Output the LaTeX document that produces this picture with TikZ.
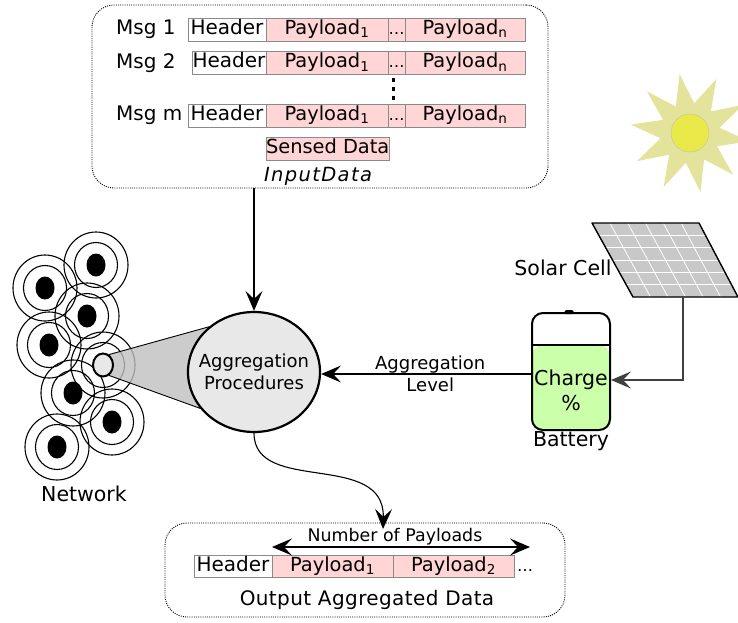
\documentclass[tikz,border=0pt]{standalone}
\usepackage{fontspec}
\setmainfont{DejaVu Sans}[ItalicFont=DejaVu Sans Oblique]
\usetikzlibrary{arrows.meta,positioning,calc,shapes.geometric,backgrounds}
\definecolor{paypink}{HTML}{FFD5D5}
\definecolor{boxgray}{HTML}{8A8A8A}
\definecolor{chargegreen}{HTML}{CCFFAA}
\definecolor{sunray}{HTML}{E3E39C}
\definecolor{sundisk}{HTML}{E9E94A}
\definecolor{panelgray}{HTML}{C8C8C8}
\definecolor{procgray}{HTML}{E8E8E8}
\tikzset{
  cell/.style={inner sep=0pt,outer sep=0pt,text height=14.5pt,text depth=4.5pt,
    font=\fontsize{20}{23}\selectfont},
  fld/.style={cell,draw=boxgray,line width=0.9pt,minimum height=23},
  hdr/.style={fld,fill=white,anchor=west},
  pay/.style={fld,fill=paypink,font=\fontsize{19.4}{23}\selectfont},
  grp/.style={draw,line width=0.9pt,dash pattern=on 1pt off 1.2pt,
    rounded corners=22pt,inner sep=0pt},
  tip/.tip={Stealth[length=20pt,width=17pt,inset=8pt]},
  arr/.style={-tip,line width=1.1pt},
  ring/.style={line width=1.1pt},
  sdot/.style={ellipse,fill=black,minimum width=19,minimum height=23,inner sep=0pt},
  lbl/.style={font=\fontsize{20.5}{25}\selectfont},
  sml/.style={font=\fontsize{18}{22}\selectfont},
}

\begin{document}
\begin{tikzpicture}[x=1pt,y=-1pt]
  \useasboundingbox (0,0) rectangle (738,623);
  \clip (0,0) rectangle (738,623);

  % incoming messages
  \node[grp,minimum width=456,minimum height=183] (inbox) at (320,96.5) {};
  \foreach \r/\y/\hx in {1/29.5/188,2/63/192,m/115.5/188} {
    \node[anchor=west,inner sep=0pt,font=\fontsize{20}{23}\selectfont] (msg\r) at (116,\y) {Msg \r};
    \node[hdr,minimum width=266-\hx] (hd\r) at (\hx,\y) {Header};
    \node[pay,minimum width=122,right=0pt of hd\r] (pa\r) {Payload\textsubscript{1}};
    \node[pay,minimum width=17,right=0pt of pa\r,font=\fontsize{16}{18}\selectfont] (dt\r) {…};
    \node[pay,minimum width=120,right=0pt of dt\r] (pn\r) {Payload\textsubscript{n}};
  }
  \foreach \v in {80,89,98} \fill (391.5,\v-1.8) rectangle +(3.2,3.6);
  \node[pay,anchor=west,minimum width=121] (sens) at (266,148.5) {Sensed Data};
  \node[font=\fontsize{19.5}{22}\selectfont\itshape\addfontfeature{LetterSpace=7}] (inlbl) at (318,176) {InputData};

  % aggregation
  \node[ellipse,draw,line width=2.2pt,fill=procgray,minimum width=132,minimum height=120,
    inner sep=0pt] (agg) at (254,372) {};
  \node[align=center,sml] (aggtxt) at (agg.center) {Aggregation\\Procedures};
  \draw[arr] (agg.north |- inbox.south) -- (agg.north);

  % sensor network
  \node[ellipse,draw,line width=2pt,fill=procgray,minimum width=20,minimum height=23,inner sep=0pt] (snk) at (103,365) {};
  \foreach \i/\px/\py in {1/96/265,2/45/288,3/87/316,4/49/345,6/73/393,7/112/422,8/57/447}
    \node[sdot] (s\i) at (\px,\py) {};
  \begin{scope}[on background layer]
    \foreach \n in {s1,s2,s3,s4,s6,s7,s8,snk} {
      \draw[ring] (\n.center) ellipse[x radius=21.5,y radius=22.5];
      \draw[ring] (\n.center) ellipse[x radius=32,y radius=33];
    }
    \filldraw[fill=black!25,fill opacity=0.8,line width=0.9pt]
      (snk.60) -- (agg.135) -- (agg.214) -- (snk.-60) -- cycle;
  \end{scope}
  \node[lbl] (netlbl) at (84,494) {Network};

  % energy source
  \node[star,star points=10,star point ratio=2,minimum size=120,inner sep=0pt,
    fill=sunray,shape border rotate=10] (sun) at (690,133) {};
  \node[circle,fill=sundisk,draw=black!25,minimum size=38,inner sep=0pt] (disk) at (sun) {};
  \coordinate (p1) at (592,223);
  \coordinate (p2) at (699,223);
  \coordinate (p3) at (738,297);
  \coordinate (p4) at (633,297);
  \fill[panelgray] (p1) -- (p2) -- (p3) -- (p4) -- cycle;
  \foreach \k in {1,...,5} {
    \draw[white,line width=0.8pt] ($(p1)!\k/6!(p2)$) -- ($(p4)!\k/6!(p3)$);
    \draw[white,line width=0.8pt] ($(p1)!\k/6!(p4)$) -- ($(p2)!\k/6!(p3)$);
  }
  \draw[line width=1.4pt,line join=round] (p1) -- (p2) -- (p3) -- (p4) -- cycle;
  \node[lbl] (pvlbl) at (563,268) {Solar Cell};
  \coordinate (pvout) at (683,297);

  \node[draw,line width=2pt,rounded corners=11pt,minimum width=78,minimum height=117,
    inner sep=0pt,fill=white,path picture={
      \fill[chargegreen] (path picture bounding box.south west) rectangle
        ([yshift=85pt]path picture bounding box.south east);
      \draw[line width=2pt] ([yshift=85pt]path picture bounding box.south west) --
        ([yshift=85pt]path picture bounding box.south east);
    }] (bat) at (571,371.5) {};
  \node[fill=black,rounded corners=1.5pt,minimum width=9,minimum height=4,inner sep=0pt] (term) at (569,312) {};
  \node[lbl,align=center] (chg) at (571,390) {Charge\\\%};
  \node[lbl] (batlbl) at (571,441) {Battery};
  \draw[arr,draw=black!75] (pvout) |- ([yshift=-8.5pt]bat.east);
  \draw[arr] ([yshift=-2pt]bat.west |- agg.east) --
    node[pos=0.48,yshift=9.5pt,sml] (lvl1) {Aggregation}
    node[pos=0.48,yshift=-11pt,sml] (lvl2) {Level} ([yshift=-2pt]agg.east);

  % aggregated output
  \node[grp,minimum width=400,minimum height=94] (outbox) at (365,570) {};
  \node[hdr,minimum width=78,minimum height=22] (ohd) at (194,566) {Header};
  \node[pay,minimum width=121,minimum height=22,right=0pt of ohd] (op1) {Payload\textsubscript{1}};
  \node[pay,minimum width=121,minimum height=22,right=0pt of op1] (op2) {Payload\textsubscript{2}};
  \node[cell,right=3pt of op2,font=\fontsize{16}{18}\selectfont] (odt) {…};
  \coordinate (nrend) at (530,547);
  \draw[tip-tip,line width=1.1pt] ([yshift=8pt]op1.north west) -- (nrend);
  \node[font=\fontsize{17.4}{20}\selectfont] (nrlbl) at (395,537) {Number of Payloads};
  \node[font=\fontsize{20}{23}\selectfont\addfontfeature{LetterSpace=2}] (outlbl) at (367,600) {Output Aggregated Data};
  \coordinate (aggin) at (383,529);
  \draw[arr] (agg.south) .. controls (254,495) and (385,450) .. (aggin);
\end{tikzpicture}
\end{document}
